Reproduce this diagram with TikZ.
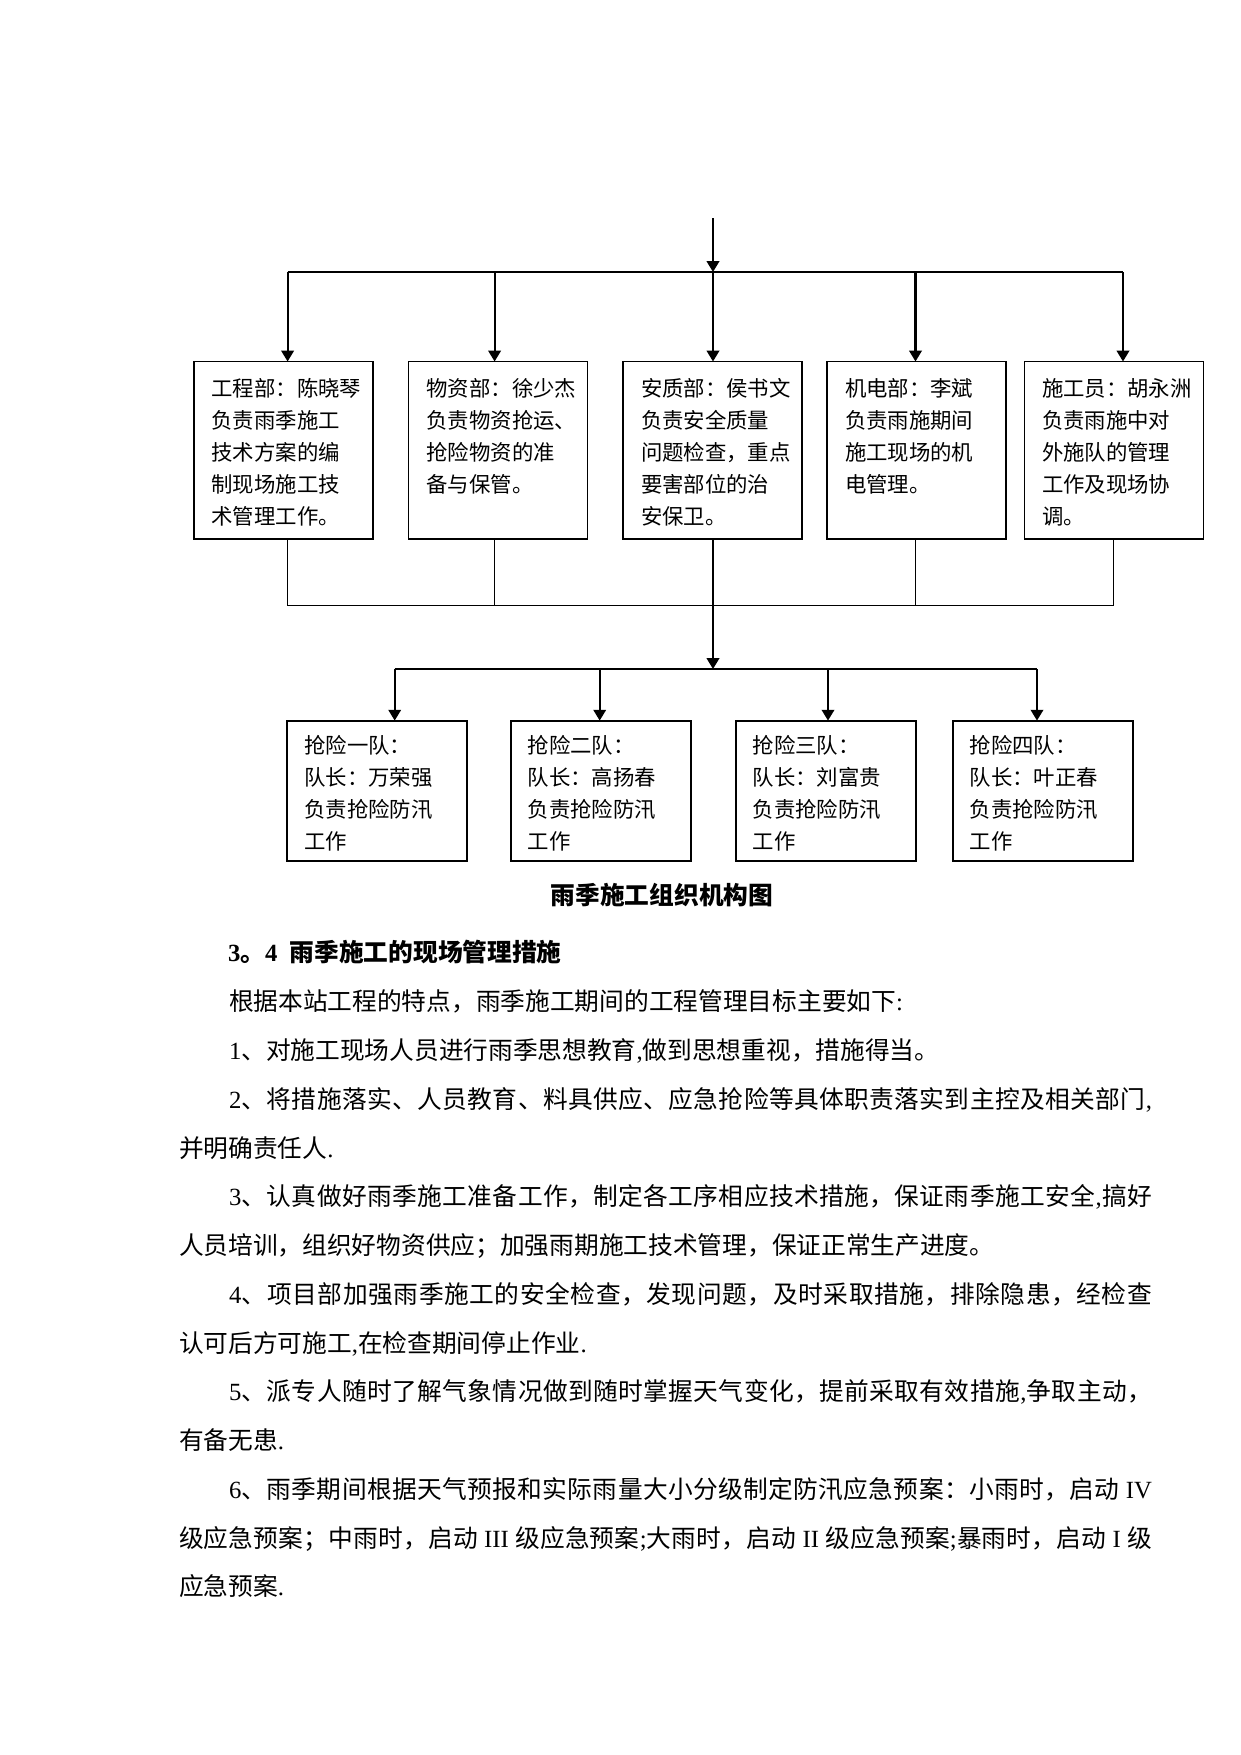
\documentclass[tikz,border=0pt]{standalone}
\usepackage{fontspec}
\setmainfont{Noto Sans CJK SC}
\newfontfamily\lat{Liberation Serif}
\usetikzlibrary{arrows.meta}
\newcommand\latx[1]{{\lat #1}}
\makeatletter
\def\spreadend{\spreadend}
\newcommand\spreadbox[2]{\hbox to #1{\spread@a#2\spreadend}}
\def\spread@a#1{#1\spread@b}
\def\spread@b#1{\ifx\spreadend#1\else\hskip 0pt plus 1fil minus 0.5pt\relax#1\expandafter\spread@b\fi}
\makeatother
\begin{document}
\begin{tikzpicture}[x=0.48pt,y=-0.48pt,
  dbox/.style={draw, line width=0.9pt, inner sep=0pt, outer sep=0pt, anchor=north west,
    minimum width=85.92pt, minimum height=85.2pt},
  tbox/.style={draw, line width=0.9pt, inner sep=0pt, outer sep=0pt, anchor=north west,
    minimum width=86.4pt, minimum height=67.2pt},
  boxtxt/.style={anchor=base west, inner sep=0pt, outer sep=0pt, align=left, text width=80pt,
    font=\fontsize{10.27pt}{15.46pt}\selectfont},
  arr/.style={line width=1pt, -{Triangle[width=6pt,length=5.2pt]}},
  busline/.style={line width=0.55pt},
  thinline/.style={line width=0.45pt},
  thickline/.style={line width=0.95pt},
  body/.style={anchor=base west, inner sep=0pt, outer sep=0pt,
    font=\fontsize{11.86pt}{14pt}\selectfont},
]
\useasboundingbox (0,0) rectangle (1241,1755);

% department boxes
\node[dbox] (d1) at (193.6,361.5) {};
\node[dbox] (d2) at (408.5,361.5) {};
\node[dbox] (d3) at (623,361.5) {};
\node[dbox] (d4) at (827,361.5) {};
\node[dbox] (d5) at (1024.5,361.5) {};

\node[boxtxt] (d1t) at (211.5,396) {工程部：陈晓琴\\负责雨季施工\\技术方案的编\\制现场施工技\\术管理工作。};
\node[boxtxt] (d2t) at (426.5,396) {物资部：徐少杰\\负责物资抢运、\\抢险物资的准\\备与保管。};
\node[boxtxt] (d3t) at (641,396) {安质部：侯书文\\负责安全质量\\问题检查，重点\\要害部位的治\\安保卫。};
\node[boxtxt] (d4t) at (845,396) {机电部：李斌\\负责雨施期间\\施工现场的机\\电管理。};
\node[boxtxt] (d5t) at (1042,396) {施工员：胡永洲\\负责雨施中对\\外施队的管理\\工作及现场协\\调。};

% team boxes
\node[tbox] (t1) at (287.3,720.6) {};
\node[tbox] (t2) at (510.7,720.6) {};
\node[tbox] (t3) at (735.7,720.6) {};
\node[tbox] (t4) at (952.7,720.6) {};

\node[boxtxt] (t1t) at (304.3,753) {抢险一队：\\队长：万荣强\\负责抢险防汛\\工作};
\node[boxtxt] (t2t) at (527.7,753) {抢险二队：\\队长：高扬春\\负责抢险防汛\\工作};
\node[boxtxt] (t3t) at (752.7,753) {抢险三队：\\队长：刘富贵\\负责抢险防汛\\工作};
\node[boxtxt] (t4t) at (969.7,753) {抢险四队：\\队长：叶正春\\负责抢险防汛\\工作};

% top distribution
\coordinate (top) at (713,218);
\coordinate (b1) at (287.6,272);
\coordinate (b2) at (494.6,272);
\coordinate (b3) at (713,272);
\coordinate (b4) at (915.5,272);
\coordinate (b5) at (1123,272);
\draw[busline] (b1) -- (b5);
\draw[arr] (top) -- (b3);
\draw[arr] (b1) -- (b1 |- d1.north);
\draw[arr] (b2) -- (b2 |- d2.north);
\draw[arr] (b3) -- (b3 |- d3.north);
\draw[arr] (b4) -- (b4 |- d4.north);
\draw[arr] (b5) -- (b5 |- d5.north);

% collector
\coordinate (c1) at (287.6,605.5);
\coordinate (c2) at (494.6,605.5);
\coordinate (c3) at (713,605.5);
\coordinate (c4) at (915.5,605.5);
\coordinate (c5) at (1113.5,605.5);
\draw[thinline] (c1 |- d1.south) -- (c1);
\draw[thinline] (c2 |- d2.south) -- (c2);
\draw[thickline] (c3 |- d3.south) -- (c3);
\draw[thinline] (c4 |- d4.south) -- (c4);
\draw[thickline] (c5 |- d5.south) -- (c5);
\draw[line width=0.75pt] (c1) -- (c5);

% second distribution
\coordinate (s1) at (394.7,669);
\coordinate (s2) at (599.7,669);
\coordinate (s3) at (713,669);
\coordinate (s4) at (828,669);
\coordinate (s5) at (1037,669);
\draw[arr] (c3) -- (s3);
\draw[busline] (s1) -- (s5);
\draw[arr] (s1) -- (s1 |- t1.north);
\draw[arr] (s2) -- (s2 |- t2.north);
\draw[arr] (s4) -- (s4 |- t3.north);
\draw[arr] (s5) -- (s5 |- t4.north);

% caption and text
\node[body, anchor=base, font=\fontsize{11.86pt}{14pt}\selectfont\bfseries] (cap) at (662,904.4) {雨季施工组织机构图};
\node[body, font=\fontsize{11.86pt}{14pt}\selectfont\bfseries] (head) at (228,961.4) {{\lat\bfseries 3}。{\lat\bfseries 4}\hspace{0.5em}雨季施工的现场管理措施};

\node[body] (p1) at (229,1010.9) {根据本站工程的特点，雨季施工期间的工程管理目标主要如下\latx{:}};
\node[body] (p2) at (229,1059.65) {\latx{1}、对施工现场人员进行雨季思想教育\latx{,}做到思想重视，措施得当。};
\node[body] (p3) at (229,1108.4) {\spreadbox{443.04pt}{{\latx{2}}、将措施落实、人员教育、料具供应、应急抢险等具体职责落实到主控及相关部门{\latx{,}}}};
\node[body] (p4) at (179,1157.15) {并明确责任人\latx{.}};
\node[body] (p5) at (229,1205.9) {\spreadbox{443.04pt}{{\latx{3}}、认真做好雨季施工准备工作，制定各工序相应技术措施，保证雨季施工安全{\latx{,}}搞好}};
\node[body] (p6) at (179,1254.65) {人员培训，组织好物资供应；加强雨期施工技术管理，保证正常生产进度。};
\node[body] (p7) at (229,1303.4) {\spreadbox{443.04pt}{{\latx{4}}、项目部加强雨季施工的安全检查，发现问题，及时采取措施，排除隐患，经检查}};
\node[body] (p8) at (179,1352.15) {认可后方可施工\latx{,}在检查期间停止作业\latx{.}};
\node[body] (p9) at (229,1400.9) {\spreadbox{443.04pt}{{\latx{5}}、派专人随时了解气象情况做到随时掌握天气变化，提前采取有效措施{\latx{,}}争取主动，}};
\node[body] (p10) at (179,1449.65) {有备无患\latx{.}};
\node[body] (p11) at (229,1498.4) {\spreadbox{443.04pt}{{\latx{6}}、雨季期间根据天气预报和实际雨量大小分级制定防汛应急预案：小雨时，启动{\latx{~IV}}}};
\node[body] (p12) at (179,1547.15) {\spreadbox{467.04pt}{级应急预案；中雨时，启动{\latx{~III~}}级应急预案{\latx{;}}大雨时，启动{\latx{~II~}}级应急预案{\latx{;}}暴雨时，启动{\latx{~I~}}级}};
\node[body] (p13) at (179,1595.9) {应急预案\latx{.}};
\end{tikzpicture}
\end{document}
